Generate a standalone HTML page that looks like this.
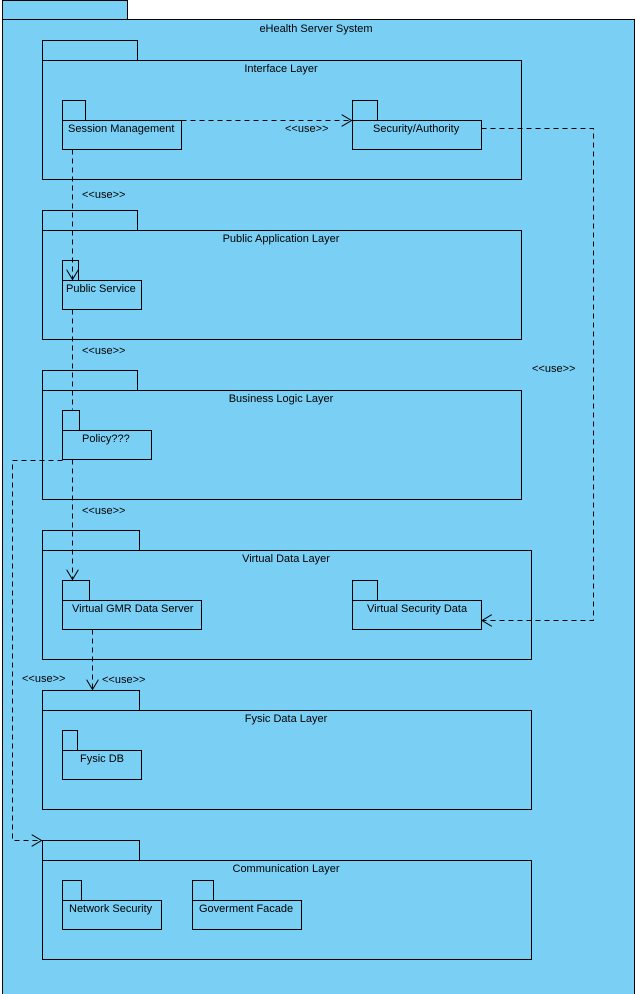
<!DOCTYPE html>
<html><head><meta charset="utf-8"><style>
html,body{margin:0;padding:0;background:#fff;}
svg{display:block;}
text{font-family:"Liberation Sans",sans-serif;font-size:11px;fill:#000;}
</style></head><body>
<svg width="636" height="994" viewBox="0 0 636 994" xmlns="http://www.w3.org/2000/svg">
<defs>
<marker id="a" markerWidth="12" markerHeight="12" refX="10" refY="6" orient="auto" markerUnits="userSpaceOnUse">
<path d="M0,0 L10,6 L0,12" fill="none" stroke="#000" stroke-width="1"/>
</marker>
</defs>
<g fill="#7acff5" stroke="#000" stroke-width="1" shape-rendering="crispEdges">
<rect x="2.5" y="0.5" width="125" height="19"/>
<rect x="2.5" y="19.5" width="632" height="980"/>
<!-- Interface -->
<rect x="42.5" y="40.5" width="95" height="20"/>
<rect x="42.5" y="60.5" width="479" height="119"/>
<rect x="62.5" y="100.5" width="23" height="20"/>
<rect x="62.5" y="120.5" width="119" height="29"/>
<rect x="352.5" y="100.5" width="25" height="20"/>
<rect x="352.5" y="120.5" width="129" height="29"/>
<!-- Public -->
<rect x="42.5" y="210.5" width="95" height="20"/>
<rect x="42.5" y="230.5" width="479" height="109"/>
<rect x="62.5" y="260.5" width="16" height="20"/>
<rect x="62.5" y="280.5" width="79" height="29"/>
<!-- Business -->
<rect x="42.5" y="370.5" width="95" height="20"/>
<rect x="42.5" y="390.5" width="479" height="109"/>
<rect x="62.5" y="410.5" width="17" height="20"/>
<rect x="62.5" y="430.5" width="89" height="29"/>
<!-- Virtual -->
<rect x="42.5" y="530.5" width="97" height="20"/>
<rect x="42.5" y="550.5" width="489" height="109"/>
<rect x="62.5" y="580.5" width="27" height="20"/>
<rect x="62.5" y="600.5" width="139" height="29"/>
<rect x="352.5" y="580.5" width="25" height="20"/>
<rect x="352.5" y="600.5" width="129" height="29"/>
<!-- Fysic -->
<rect x="42.5" y="690.5" width="97" height="20"/>
<rect x="42.5" y="710.5" width="489" height="99"/>
<rect x="62.5" y="730.5" width="15" height="20"/>
<rect x="62.5" y="750.5" width="79" height="29"/>
<!-- Communication -->
<rect x="42.5" y="840.5" width="97" height="20"/>
<rect x="42.5" y="860.5" width="489" height="99"/>
<rect x="62.5" y="880.5" width="19" height="20"/>
<rect x="62.5" y="900.5" width="99" height="29"/>
<rect x="192.5" y="880.5" width="21" height="20"/>
<rect x="192.5" y="900.5" width="109" height="29"/>
</g>
<g fill="none" stroke="#000" stroke-width="1" stroke-dasharray="5,4">
<path d="M181.5,120.5 H351.5" marker-end="url(#a)"/>
<path d="M72.5,149.5 V279.5" marker-end="url(#a)"/>
<path d="M72.5,309.5 V409.5"/>
<path d="M72.5,459.5 V579.5" marker-end="url(#a)"/>
<path d="M481.5,128.5 H593.5 V620.5 H482" marker-end="url(#a)"/>
<path d="M92.5,629.5 V689.5" marker-end="url(#a)"/>
<path d="M62.5,460.5 H12.5 V840.5 H41.5" marker-end="url(#a)"/>
</g>
<g text-anchor="middle">
<text x="316" y="32">eHealth Server System</text>
<text x="281" y="72">Interface Layer</text>
<text x="281" y="242">Public Application Layer</text>
<text x="281" y="402">Business Logic Layer</text>
<text x="286" y="562">Virtual Data Layer</text>
<text x="286" y="722">Fysic Data Layer</text>
<text x="286" y="872">Communication Layer</text>
</g>
<text x="68" y="132">Session Management</text>
<text x="373" y="132">Security/Authority</text>
<text x="66" y="292">Public Service</text>
<text x="82" y="442">Policy???</text>
<text x="72" y="612">Virtual GMR Data Server</text>
<text x="367" y="612">Virtual Security Data</text>
<text x="80" y="762">Fysic DB</text>
<text x="69" y="912">Network Security</text>
<text x="199" y="912">Goverment Facade</text>
<text x="285" y="132">&lt;&lt;use&gt;&gt;</text>
<text x="82" y="198">&lt;&lt;use&gt;&gt;</text>
<text x="82" y="354">&lt;&lt;use&gt;&gt;</text>
<text x="82" y="514">&lt;&lt;use&gt;&gt;</text>
<text x="532" y="372">&lt;&lt;use&gt;&gt;</text>
<text x="102" y="683">&lt;&lt;use&gt;&gt;</text>
<text x="22" y="682">&lt;&lt;use&gt;&gt;</text>
</svg>
</body></html>
